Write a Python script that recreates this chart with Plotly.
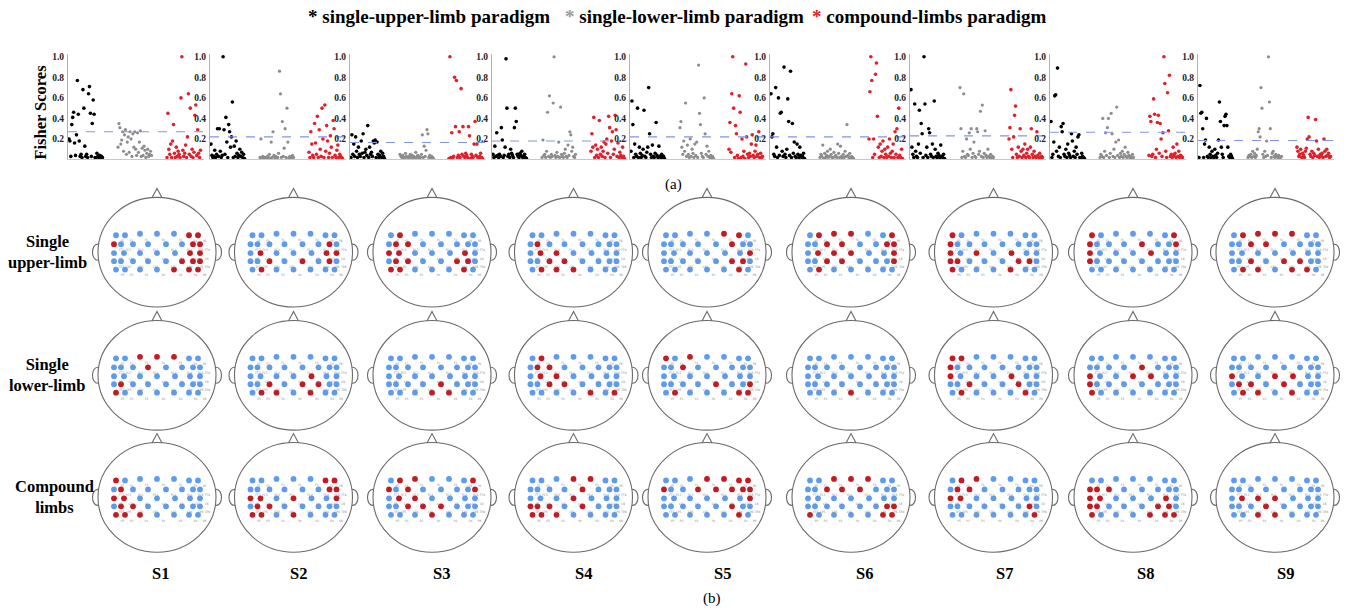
import plotly.graph_objects as go

W, H = 1346, 609
FONT = "Liberation Serif"

# ---------------- data: panel (a) Fisher scores ----------------
subjects = ["S1", "S2", "S3", "S4", "S5", "S6", "S7", "S8", "S9"]
thresholds = [0.27, 0.22, 0.165, 0.18, 0.22, 0.22, 0.23, 0.265, 0.185]

upper_scores = [
    [0.20,0.18,0.03,0.34,0.41,0.46,0.16,0.04,0.24,0.77,0.44,0.18,0.03,0.05,0.02,0.68,0.50,0.13,0.03,0.05,0.02,0.64,0.71,0.45,0.03,0.35,0.58,0.44,0.02,0.01,0.06,0.03,0.02,0.04,0.01,0.03,0.02],
    [0.15,0.04,0.02,0.03,0.09,0.02,0.05,0.30,0.03,0.30,0.08,0.02,0.04,1.00,0.29,0.05,0.41,0.17,0.02,0.34,0.27,0.12,0.22,0.56,0.02,0.13,0.03,0.18,0.06,0.02,0.04,0.10,0.03,0.07,0.02,0.05,0.01],
    [0.02,0.24,0.05,0.15,0.03,0.22,0.08,0.02,0.12,0.05,0.03,0.18,0.06,0.25,0.02,0.07,0.10,0.04,0.33,0.02,0.12,0.05,0.07,0.03,0.18,0.16,0.19,0.02,0.17,0.05,0.02,0.04,0.08,0.02,0.06,0.03,0.01],
    [0.05,0.02,0.13,0.03,0.26,0.04,0.02,0.05,0.03,0.31,0.19,0.02,0.04,0.12,0.98,0.50,0.03,0.05,0.02,0.10,0.06,0.04,0.02,0.31,0.50,0.37,0.05,0.03,0.02,0.06,0.04,0.08,0.02,0.03,0.05,0.02,0.01],
    [0.08,0.57,0.34,0.02,0.15,0.05,0.03,0.50,0.02,0.12,0.06,0.02,0.04,0.10,0.48,0.03,0.02,0.07,0.12,0.70,0.25,0.05,0.02,0.14,0.03,0.02,0.06,0.36,0.04,0.02,0.13,0.03,0.02,0.05,0.02,0.03,0.01],
    [0.64,0.22,0.25,0.05,0.03,0.70,0.12,0.02,0.60,0.04,0.45,0.46,0.08,0.03,0.90,0.05,0.02,0.10,0.59,0.37,0.04,0.86,0.02,0.35,0.06,0.17,0.03,0.02,0.15,0.05,0.02,0.12,0.04,0.02,0.03,0.06,0.01],
    [0.68,0.12,0.05,0.02,0.54,0.08,0.03,0.02,0.15,0.48,0.06,0.35,0.25,0.02,1.00,0.54,0.04,0.12,0.02,0.30,0.26,0.05,0.03,0.15,0.02,0.57,0.10,0.03,0.02,0.06,0.04,0.02,0.14,0.03,0.02,0.05,0.01],
    [0.37,0.02,0.05,0.17,0.62,0.63,0.08,0.89,0.03,0.12,0.02,0.32,0.27,0.35,0.05,0.03,0.10,0.02,0.15,0.06,0.04,0.02,0.25,0.18,0.03,0.08,0.02,0.12,0.05,0.22,0.24,0.02,0.01,0.06,0.03,0.02,0.01],
    [0.02,0.72,0.45,0.46,0.30,0.02,0.15,0.19,0.40,0.03,0.02,0.12,0.05,0.02,0.08,0.03,0.02,0.10,0.04,0.02,0.06,0.19,0.56,0.37,0.12,0.05,0.02,0.33,0.42,0.44,0.33,0.12,0.03,0.02,0.05,0.03,0.01],
]
lower_scores = [
    [0.12,0.35,0.31,0.15,0.19,0.27,0.08,0.24,0.29,0.05,0.17,0.22,0.07,0.27,0.20,0.03,0.25,0.12,0.27,0.10,0.04,0.26,0.07,0.17,0.28,0.03,0.11,0.04,0.13,0.09,0.02,0.06,0.10,0.03,0.05,0.08,0.04],
    [0.02,0.20,0.01,0.03,0.01,0.02,0.02,0.01,0.03,0.02,0.05,0.01,0.17,0.02,0.27,0.04,0.02,0.03,0.01,0.02,0.06,0.86,0.64,0.02,0.37,0.03,0.11,0.30,0.02,0.50,0.17,0.01,0.03,0.02,0.01,0.04,0.02],
    [0.05,0.03,0.02,0.04,0.01,0.02,0.06,0.03,0.02,0.01,0.03,0.05,0.02,0.04,0.01,0.03,0.02,0.07,0.02,0.04,0.03,0.01,0.02,0.05,0.24,0.02,0.13,0.03,0.09,0.29,0.25,0.02,0.04,0.01,0.03,0.02,0.01],
    [0.02,0.19,0.04,0.05,0.02,0.08,0.46,0.03,0.62,0.02,0.05,0.03,0.55,1.00,0.04,0.02,0.07,0.03,0.17,0.02,0.51,0.05,0.03,0.02,0.06,0.10,0.03,0.02,0.14,0.04,0.27,0.24,0.08,0.12,0.03,0.02,0.05],
    [0.31,0.37,0.12,0.05,0.18,0.08,0.55,0.03,0.14,0.05,0.02,0.20,0.03,0.10,0.06,0.02,0.15,0.04,0.17,0.02,0.92,0.45,0.34,0.06,0.03,0.02,0.60,0.25,0.05,0.13,0.03,0.08,0.02,0.04,0.02,0.03,0.01],
    [0.02,0.05,0.03,0.14,0.01,0.06,0.02,0.04,0.08,0.02,0.03,0.10,0.05,0.02,0.01,0.07,0.03,0.04,0.02,0.15,0.06,0.02,0.13,0.03,0.01,0.05,0.02,0.08,0.03,0.34,0.04,0.02,0.06,0.01,0.03,0.02,0.01],
    [0.70,0.30,0.02,0.08,0.64,0.03,0.02,0.20,0.05,0.04,0.26,0.10,0.30,0.02,0.06,0.17,0.03,0.02,0.30,0.27,0.05,0.08,0.47,0.03,0.53,0.02,0.06,0.28,0.04,0.02,0.10,0.03,0.02,0.05,0.01,0.03,0.02],
    [0.02,0.05,0.03,0.40,0.02,0.08,0.26,0.04,0.31,0.40,0.02,0.06,0.45,0.25,0.03,0.10,0.02,0.17,0.51,0.04,0.19,0.02,0.06,0.03,0.08,0.02,0.05,0.12,0.03,0.02,0.07,0.04,0.02,0.03,0.01,0.05,0.02],
    [0.02,0.04,0.03,0.05,0.02,0.08,0.03,0.06,0.02,0.04,0.10,0.27,0.30,0.22,0.70,0.50,0.05,0.02,0.08,0.03,0.18,0.04,1.00,0.56,0.30,0.02,0.06,0.08,0.03,0.02,0.05,0.03,0.02,0.04,0.01,0.02,0.03],
]
compound_scores = [
    [0.02,0.45,0.10,0.05,0.15,0.02,0.18,0.34,0.06,0.02,0.12,0.03,0.08,0.05,0.02,0.60,1.00,0.09,0.03,0.06,0.14,0.02,0.22,0.64,0.05,0.50,0.03,0.10,0.02,0.07,0.43,0.53,0.04,0.29,0.06,0.02,0.09],
    [0.07,0.02,0.27,0.15,0.04,0.02,0.35,0.16,0.05,0.42,0.02,0.29,0.10,0.03,0.50,0.20,0.02,0.53,0.08,0.33,0.18,0.02,0.06,0.23,0.12,0.02,0.38,0.30,0.04,0.02,0.09,0.14,0.02,0.05,0.03,0.02,0.01],
    [0.01,1.00,0.02,0.26,0.01,0.03,0.80,0.32,0.77,0.02,0.04,0.27,0.02,0.69,0.05,0.32,0.03,0.02,0.06,0.04,0.02,0.32,0.23,0.01,0.05,0.03,0.02,0.15,0.37,0.04,0.15,0.02,0.01,0.03,0.06,0.02,0.01],
    [0.08,0.25,0.12,0.41,0.02,0.14,0.04,0.10,0.02,0.38,0.05,0.12,0.03,0.08,0.17,0.02,0.15,0.20,0.06,0.42,0.31,0.02,0.18,0.27,0.05,0.10,0.43,0.29,0.03,0.16,0.02,0.07,0.04,0.02,0.12,0.03,0.01],
    [0.10,0.36,0.07,0.64,1.00,0.50,0.02,0.33,0.25,0.04,0.01,0.62,0.46,0.02,0.20,0.03,0.08,0.01,0.93,0.22,0.05,0.02,0.06,0.03,0.15,0.24,0.04,0.02,0.08,0.14,0.03,0.05,0.27,0.02,0.06,0.01,0.03],
    [0.20,0.66,1.00,0.77,0.02,0.20,0.05,0.83,0.94,0.42,0.12,0.02,0.15,0.03,0.08,0.18,0.02,0.10,0.05,0.02,0.12,0.03,0.20,0.06,0.02,0.08,0.15,0.02,0.27,0.05,0.30,0.02,0.50,0.04,0.02,0.10,0.01],
    [0.20,0.31,0.68,0.10,0.02,0.22,0.43,0.52,0.05,0.02,0.12,0.03,0.30,0.08,0.02,0.10,0.04,0.15,0.02,0.06,0.10,0.03,0.02,0.12,0.30,0.05,0.02,0.08,0.03,0.02,0.27,0.04,0.02,0.06,0.01,0.03,0.02],
    [0.04,0.42,0.37,0.03,0.05,0.59,0.44,0.02,0.10,0.36,0.43,0.06,0.35,0.20,0.03,0.26,1.00,0.74,0.08,0.02,0.65,0.28,0.82,0.03,0.05,0.02,0.12,0.04,0.06,0.02,0.15,0.03,0.08,0.02,0.04,0.03,0.02],
    [0.12,0.08,0.03,0.05,0.10,0.02,0.06,0.04,0.02,0.08,0.11,0.20,0.41,0.22,0.05,0.03,0.08,0.02,0.06,0.04,0.39,0.18,0.03,0.10,0.02,0.05,0.04,0.06,0.02,0.20,0.08,0.03,0.10,0.04,0.06,0.02,0.03],
]
ytick_vals = [0.2, 0.4, 0.6, 0.8, 1.0]
ytick_text = ["0.2", "0.4", "0.6", "0.8", "1.0"]

# ---------------- data: panel (b) selected channels ----------------
channel_rows = [
    ["F5", "F3", "F1", "Fz", "F2", "F4", "F6"],
    ["FT7", "FC5", "FC3", "FC1", "FC2", "FC4", "FC6", "FT8"],
    ["C5", "C3", "C1", "Cz", "C2", "C4", "C6"],
    ["TP7", "CP5", "CP3", "CP1", "CP2", "CP4", "CP6", "TP8"],
    ["P5", "P3", "P1", "Pz", "P2", "P4", "P6"],
]
row_names = ["Single<br>upper-limb", "Single<br>lower-limb", "Compound<br>limbs"]
# selected (red) channels: letter = electrode row (A..E), digit = position in that row
selected = {
    "upper": [
        "A5 A6 B0 B6 B7 C5 C6 D5 D6 D7 E4 E5 E6",
        "B6 C1 C5 C6 D2 D4 D6 E1",
        "A1 B1 B2 C0 C1 C5 D1 D2 D5 D6 E0 E1 E5",
        "B1 C1 C2 D2 D3 E1 E2 E3",
        "A4 A5 B5 C6 D5 D6 E5",
        "A1 A2 A3 A6 B2 B3 B6 B7 C1 C2 C3 C6 D2 D3 D7 E1",
        "A0 B0 C0 C2 C4 D0 D1 D5 D6 E0 E4",
        "A0 A6 B0 B4 B7 C0 C4 D0",
        "A1 A2 A3 A4 B2 B3 D2 D4 D5 E1 E2 E4 E5",
    ],
    "lower": [
        "A2 A3 A4 B3 D1 E0",
        "C4 D2 D4 D5 E1 E2 E4",
        "D4 E3 E4",
        "A1 B1 B2 C1 C2 D2 D3 E4 E6",
        "A0 A2 B2 D4 D7 E1 E5 E6",
        "E3",
        "A0 A1 B0 C0 C4 D2 D5 E1 E5",
        "B4 C0 C3 C4 D0 E0",
        "C0 C3 C4 D1 D2 D4 E1 E2 E4",
    ],
    "compound": [
        "A0 B1 C0 C1 D1 D2 E0 E1 E2",
        "A5 A6 B6 B7 C0 C1 C3 C6 D1 D2 E0 E1 E3",
        "A1 A2 A6 B0 B2 B7 C1 C2 D2 D3 D4 E3",
        "A3 A4 B4 C3 D0 D1 D2 D4 E0 E1 E2",
        "A3 A4 A5 A6 B0 B3 B4 B5 B6 B7 C6 D5 E5",
        "A2 A3 A4 B2 B3 B4 D6 D7 E0 E5 E6",
        "A1 A2 B1 B2 C0 C1 D6 E6",
        "B0 B1 B2 C0 C1 C5 D0 D1 D5 D6 E0 E4 E5 E6",
        "C1 C2 C3 D3 E2 E3",
    ],
}
paradigm_keys = ["upper", "lower", "compound"]

# ---------------- styling / layout constants ----------------
AXIS_X = [68, 210, 350, 492, 630, 770, 910, 1050, 1198]   # px of each score axis
SUB_W = 136
Y0_PX, YTOP_PX = 158, 52
YMAX = (Y0_PX - YTOP_PX) / 103.0
GROUP_START = [1.0, 50.0, 99.0]
STEP = 0.93
COL_UP, COL_LOW, COL_CMP = "#000000", "#8c8c8c", "#e0202a"

HEAD_CX = [157, 293.5, 432, 573.5, 707, 851, 993.5, 1133, 1275]
HEAD_CY = [251, 374.5, 497]
RX, RY = 59, 55
ROW_DX = [
    [-41, -32, -17, 0, 17, 32, 41],
    [-43, -36, -24, -9, 9, 25, 36, 43],
    [-43, -33, -17, 0, 18, 33, 43],
    [-43, -36, -24, -9, 9, 25, 36, 43],
    [-41, -32, -17, 0, 17, 32, 41],
]
ROW_DY = [-17, -8, 1, 9, 17.5]
BLUE, RED = "#5e9bef", "#c41a22"

fig = go.Figure()

def ax_name(k):
    return "" if k == 0 else str(k + 1)

# ---------------- panel (a) ----------------
for k in range(9):
    xr, yr = "x" + ax_name(k), "y" + ax_name(k)
    for g, (series, col, sz) in enumerate([(upper_scores, COL_UP, 3.6),
                                           (lower_scores, COL_LOW, 3.2),
                                           (compound_scores, COL_CMP, 3.6)]):
        vals = series[k]
        xs = [GROUP_START[g] + i * STEP for i in range(len(vals))]
        fig.add_trace(go.Scatter(x=xs, y=vals, mode="markers", xaxis=xr, yaxis=yr,
                                 marker=dict(color=col, size=sz, line=dict(width=0)),
                                 showlegend=False, hoverinfo="skip"))
    fig.add_trace(go.Scatter(x=[0, SUB_W], y=[thresholds[k]] * 2, mode="lines",
                             xaxis=xr, yaxis=yr,
                             line=dict(color="#8394e6", width=1.1, dash="dash"),
                             showlegend=False, hoverinfo="skip"))
    x0 = AXIS_X[k] / W
    x1 = (AXIS_X[k] + SUB_W) / W
    fig.layout["xaxis" + ax_name(k)] = dict(
        domain=[x0, x1], range=[0, SUB_W], showgrid=False, zeroline=False,
        showticklabels=False, ticks="", showline=True, linecolor="#c8c8c8",
        linewidth=1, anchor=yr, fixedrange=True)
    fig.layout["yaxis" + ax_name(k)] = dict(
        domain=[1 - Y0_PX / H, 1 - YTOP_PX / H], range=[0, YMAX], showgrid=False,
        zeroline=False, tickvals=ytick_vals, ticktext=ytick_text, ticks="",
        tickfont=dict(family=FONT, size=9.5, color="#222", weight="bold"), showline=True,
        linecolor="#b0b0b0", linewidth=1, anchor=xr, ticklabelstandoff=1,
        fixedrange=True)

# ---------------- panel (b) : overlay axis in pixel units ----------------
fig.layout["xaxis10"] = dict(domain=[0, 1], range=[0, W], visible=False, fixedrange=True,
                             anchor="y10")
fig.layout["yaxis10"] = dict(domain=[0, 1], range=[H, 0], visible=False, fixedrange=True,
                             anchor="x10")

shapes = []
for r in range(3):
    for c in range(9):
        cx, cy = HEAD_CX[c], HEAD_CY[r]
        line = dict(color="#6a6a6a", width=1.1)
        shapes.append(dict(type="circle", xref="x10", yref="y10", x0=cx - RX, x1=cx + RX,
                           y0=cy - RY, y1=cy + RY, line=line, layer="below"))
        top = cy - RY
        shapes.append(dict(type="path", xref="x10", yref="y10", line=line,
                           path=f"M {cx-5},{top+0.5} L {cx},{top-9} L {cx+5},{top+0.5}"))
        lx = cx - RX + 0.5
        shapes.append(dict(type="path", xref="x10", yref="y10", line=line,
                           path=f"M {lx},{cy-8} C {lx-8},{cy-9} {lx-8},{cy+9} {lx},{cy+8}"))
        rxp = cx + RX - 0.5
        shapes.append(dict(type="path", xref="x10", yref="y10", line=line,
                           path=f"M {rxp},{cy-8} C {rxp+8},{cy-9} {rxp+8},{cy+9} {rxp},{cy+8}"))

        sel = set(selected[paradigm_keys[r]][c].split())
        xs, ys, cols, labels = [], [], [], []
        for ri, names in enumerate(channel_rows):
            for ci, nm in enumerate(names):
                key = "ABCDE"[ri] + str(ci)
                xs.append(cx + ROW_DX[ri][ci])
                curve = -1.5 if (ri == 0 and 2 <= ci <= 4) else 0
                ys.append(cy + ROW_DY[ri] + curve)
                cols.append(RED if key in sel else BLUE)
                labels.append(nm)
        fig.add_trace(go.Scatter(x=xs, y=ys, mode="markers+text", xaxis="x10", yaxis="y10",
                                 text=labels, textposition="bottom right",
                                 textfont=dict(size=3, color="#8a8a8a", family="DejaVu Sans"),
                                 marker=dict(color=cols, size=5.8, line=dict(width=0)),
                                 showlegend=False, hoverinfo="skip"))

# ---------------- text annotations ----------------
def ann(text, px, py, size, xanchor="center", textangle=0):
    return dict(text=text, x=px / W, y=1 - py / H, xref="paper", yref="paper",
                showarrow=False, xanchor=xanchor, yanchor="middle", textangle=textangle,
                font=dict(family=FONT, size=size, color="#000"), align="center")

annotations = [
    ann('<b>* single-upper-limb paradigm</b>', 429, 15, 19),
    ann('<b><span style="color:#9a9a9a">*</span> single-lower-limb paradigm</b>', 684, 15, 19),
    ann('<b><span style="color:#e0202a">*</span> compound-limbs paradigm</b>', 929, 15, 19),
    ann('<b>Fisher Scores</b>', 41, 111, 16.5, textangle=-90),
    ann('(a)', 673, 183, 15),
    ann('(b)', 712, 598, 15),
]
row_label_x = [47, 47, 54]
for r in range(3):
    annotations.append(ann(f"<b>{row_names[r]}</b>", row_label_x[r], HEAD_CY[r], 16.5))
label_x = [160, 298, 441, 583, 722, 864, 1004, 1145, 1285]
for c in range(9):
    annotations.append(ann(f"<b>{subjects[c]}</b>", label_x[c], 573, 16.5))

fig.update_layout(width=W, height=H, margin=dict(l=0, r=0, t=0, b=0),
                  paper_bgcolor="white", plot_bgcolor="rgba(0,0,0,0)",
                  shapes=shapes, annotations=annotations, showlegend=False)

fig.write_html("out.html", config={"displayModeBar": False},
               post_script="document.body.style.margin='0';document.body.style.overflow='hidden';")
